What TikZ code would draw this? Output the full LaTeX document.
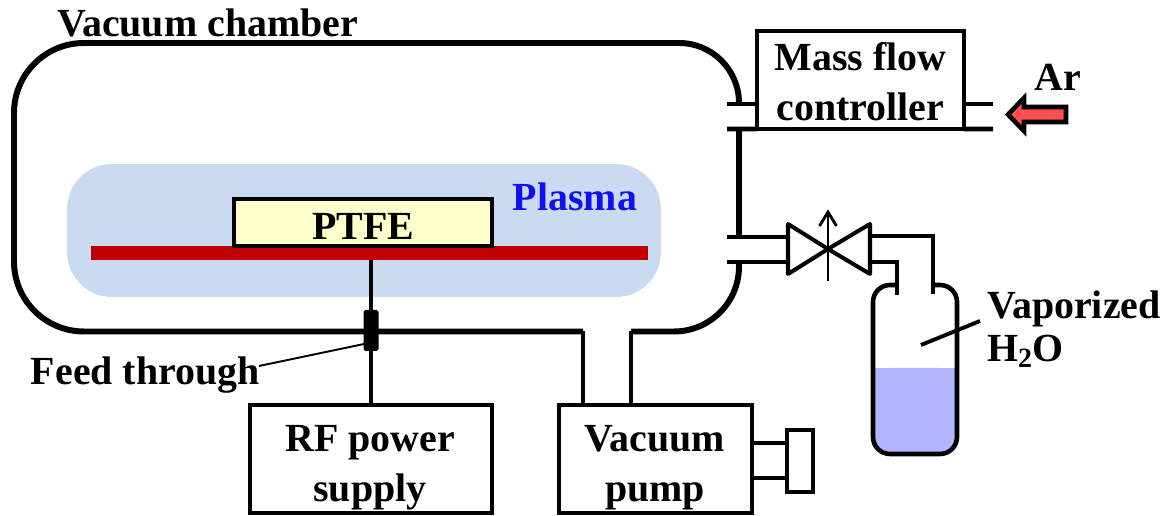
\documentclass[tikz,border=0pt]{standalone}
\usepackage{fontspec}
\setmainfont{Liberation Serif}
\begin{document}
\begin{tikzpicture}[x=0.02cm,y=0.02cm]
\tikzset{
  every node/.style={inner sep=0pt, outer sep=0pt, font=\bfseries\fontsize{22.7}{28.3}\selectfont, align=center},
  pipe/.style={black, line width=2.7pt},
  wall/.style={black, line width=3.4pt},
  box/.style={draw=black, line width=2.8pt, sharp corners, fill=white}
}
\useasboundingbox (0,0) rectangle (1171,-516);
% plasma and electrode
\node [fill={rgb,255:red,202;green,218;blue,240}, rounded corners=0.9cm, minimum width=11.88cm, minimum height=2.66cm] (plasma) at (364,-230.5) {};
\node [fill={rgb,255:red,192;green,0;blue,0}, minimum width=11.14cm, minimum height=0.28cm] (electrode) at (369.5,-253) {};
\node [box, fill={rgb,255:red,255;green,255;blue,204}, line width=2.2pt, minimum width=5.16cm, minimum height=0.94cm, text height=19pt] (ptfe) at (363,-222.5) {PTFE};
\node [text={rgb,255:red,16;green,16;blue,240}] (plasmalabel) at (575,-197) {Plasma};
% chamber
\draw [wall, rounded corners=1.2cm] (739,-104) -- (739,-43) [rounded corners=1.4cm] -- (14,-43) -- (14,-331.5) -- (583,-331.5);
\draw [wall, rounded corners=1.3cm] (631,-331.5) -- (739,-331.5) -- (739,-263);
\draw [wall] (739,-129) -- (739,-237);
\node [anchor=base west] (chamberlabel) at (57,-37) {Vacuum chamber};
% boxes
\node [box, minimum width=4.14cm, minimum height=1.96cm] (mfc) at (860.5,-80) {};
\node (mfclabel) at (860.5,-82) {Mass flow\\controller};
\node [box, minimum width=4.84cm, minimum height=2.16cm] (rf) at (371,-459) {};
\node (rflabel) at (370,-468) {RF power\\supply};
\node [box, minimum width=3.86cm, minimum height=2.16cm] (pump) at (655.5,-459) {};
\node (pumplabel) at (655,-468) {Vacuum\\pump};
\node [box, minimum width=0.52cm, minimum height=1.24cm] (motor) at (800,-461) {};
% feed through
\node [fill=black, rounded corners=1pt, minimum width=0.3cm, minimum height=0.82cm] (feed) at (371,-330.5) {};
\draw [black, line width=1.8pt] (feed.north) -- (feed.north |- electrode.south);
\draw [black, line width=1.8pt] (feed.south) -- (rf.north);
\node [anchor=base west] (feedlabel) at (31,-385) {Feed through};
\coordinate (feedtip) at (364,-344);
\coordinate (feedend) at (259,-366);
\draw [black, line width=1.1pt] (feedend) -- (feedtip);
% pipes
\draw [pipe] (583,-331.5) -- (583,0 |- pump.north);
\draw [pipe] (631,-331.5) -- (631,0 |- pump.north);
\draw [pipe] (752,-443) -- (motor.west |- 0,-443);
\draw [pipe] (752,-478) -- (motor.west |- 0,-478);
\draw [pipe] (727,-104) -- (mfc.west |- 0,-104);
\draw [pipe] (727,-129) -- (mfc.south west);
\draw [pipe] (mfc.east |- 0,-104) -- (993,-104);
\draw [pipe] (mfc.south east) -- (993,-129);
% argon inlet
\draw [black, line width=2.6pt, fill={rgb,255:red,255;green,80;blue,80}, miter limit=8] (1008,-114.5) -- (1024,-98) -- (1024,-107) -- (1066,-107) -- (1066,-122) -- (1024,-122) -- (1024,-131) -- cycle;
\node (arlabel) at (1058,-77) {Ar};
% valve
\coordinate (valve) at (828,-249);
\draw [black, line width=2.3pt, fill=white, line join=round] (valve) -- (788,-224) -- (788,-274) -- cycle;
\draw [black, line width=2.3pt, fill=white, line join=round] (valve) -- (870,-224) -- (870,-274) -- cycle;
\draw [black, line width=1.6pt] (828,-281) -- (828,-212);
\draw [black, line width=1.6pt] (819.5,-226) -- (828,-212) -- (836.5,-226);
\draw [pipe] (727,-237) -- (788,-237);
\draw [pipe] (727,-262) -- (788,-262);
\draw [pipe] (870,-236) -- (933,-236) -- (933,-294);
\draw [pipe] (870,-262) -- (897,-262) -- (897,-295);
% bottle
\fill [fill={rgb,255:red,179;green,179;blue,255}, rounded corners=0.32cm] (873,-368) -- (873,-454) -- (957,-454) -- (957,-368) -- cycle;
\fill [fill={rgb,255:red,179;green,179;blue,255}] (873,-368) rectangle (957,-400);
\draw [wall, line width=2.6pt, rounded corners=0.34cm] (897,-285) -- (873,-285) -- (873,-454) -- (957,-454) -- (957,-285) -- (933,-285);
\node [anchor=west, align=left, font=\bfseries\fontsize{22.7}{24.2}\selectfont] (vaporlabel) at (987,-329) {Vaporized\\H\textsubscript{2}O};
\coordinate (vaporend) at (980,-321);
\coordinate (vaportip) at (921,-345);
\draw [black, line width=2.2pt] (vaporend) -- (vaportip);
\end{tikzpicture}
\end{document}
